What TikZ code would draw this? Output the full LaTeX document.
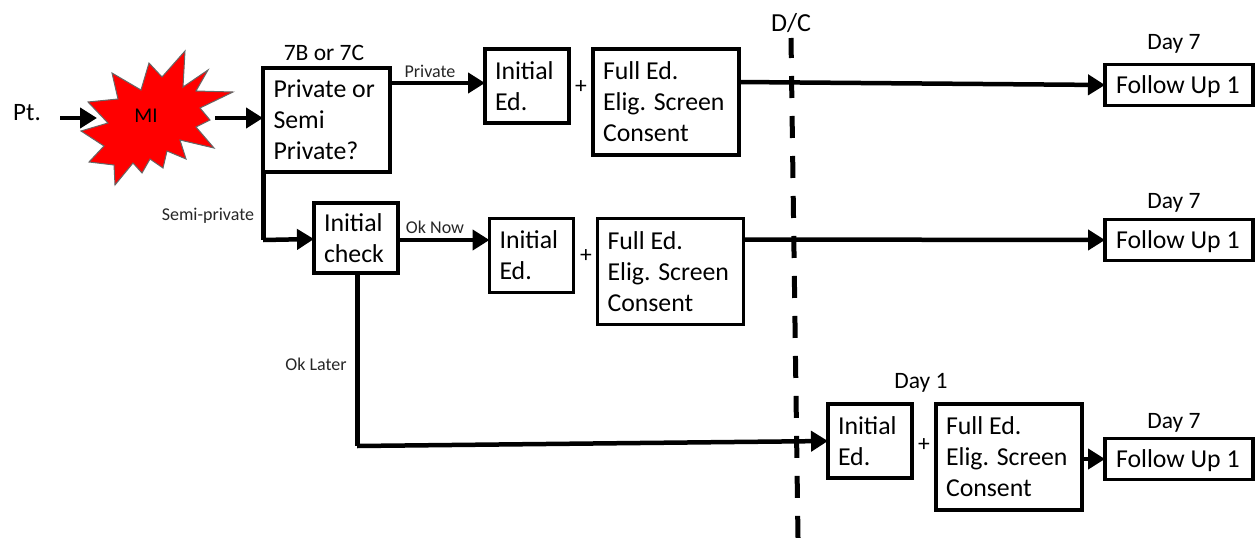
\documentclass[tikz,border=0pt]{standalone}
\usepackage{fontspec}
\setmainfont{Carlito}
\usetikzlibrary{arrows.meta, positioning}

\begin{document}
\begin{tikzpicture}[x=1pt, y=-1pt, node distance=24pt and 24pt,
  box/.style={rectangle, draw, line width=3.5pt, align=flush left, outer sep=0pt, inner sep=0pt, font=\fontsize{25.8}{31}\selectfont},
  qbox/.style={box, text width=106pt, minimum width=127pt, minimum height=104pt},
  checkbox/.style={box, text width=64pt, minimum width=84pt, minimum height=70pt},
  edbox/.style={box, text width=64pt, minimum width=84pt, minimum height=74pt},
  fullbox/.style={box, text width=126pt, minimum width=146pt, minimum height=106pt},
  fubox/.style={box, text width=126pt, minimum width=148pt, minimum height=41pt, text height=18pt, text depth=2pt},
  big/.style={inner sep=0pt, font=\fontsize{23.5}{28}\selectfont},
  small/.style={inner sep=0pt, text=black!85, font=\fontsize{18}{22}\selectfont},
  arr/.style={-{Triangle[length=17pt, width=20pt]}, line width=4.5pt},
  link/.style={line width=5pt}]
\useasboundingbox (0,0) rectangle (1257,538);

% burst
\draw[fill=red, draw=black!60, line width=1pt]
  (185,51) -- (162,77) -- (149,63) -- (141,90) -- (112,73) -- (118,99) -- (88,102) -- (108,123)
  -- (81,131) -- (104,146) -- (89,162) -- (114,165) -- (115,185) -- (133,163) -- (142,173) -- (150,159)
  -- (163,168) -- (167,151) -- (186,159) -- (180,140) -- (214,148) -- (196,127) -- (210,120) -- (200,108)
  -- (233,92) -- (196,91) -- (208,70) -- (183,87) -- cycle;
\node[inner sep=0pt, font=\fontsize{21}{25}\selectfont] (mi) at (146,116) {MI};
\coordinate (miin) at (97,118);
\coordinate (miout) at (215,118);
\node[big, font=\fontsize{25}{30}\selectfont] (pt) at (27,113) {Pt.};

% top row
\node[qbox] (q) at (326.5,120) {Private or\\Semi\\Private?};
\node[edbox] (init1) at (527,86) {Initial\\Ed.};
\node[fullbox, right=24pt of init1.north east, anchor=north west] (full1) {Full Ed.\\Elig. Screen\\Consent};
\node[fubox] (fu1) at (1179,85) {Follow Up 1};

% middle row
\node[checkbox] (check) at (356,238) {Initial\\check};
\node[edbox] (init2) at (531.5,255.5) {Initial\\Ed.};
\node[fullbox, right=24pt of init2.north east, anchor=north west] (full2) {Full Ed.\\Elig. Screen\\Consent};
\node[fubox] (fu2) at (1179,240) {Follow Up 1};

% bottom row
\node[edbox] (init3) at (870,441) {Initial\\Ed.};
\node[fullbox, right=24pt of init3.north east, anchor=north west] (full3) {Full Ed.\\Elig. Screen\\Consent};
\node[fubox] (fu3) at (1179,459) {Follow Up 1};

% labels
\node[big] (ward) at (324,53) {7B or 7C};
\node[small] (private) at (430,71) {Private};
\node[small] (semi) at (208,216) {Semi-private};
\node[small] (oknow) at (435,227) {Ok Now};
\node[small] (oklater) at (316,364) {Ok Later};
\node[big, font=\fontsize{26}{30}\selectfont] (dc) at (791,23) {D/C};
\node[big] (day1) at (921,383) {Day 1};
\node[big] (day7a) at (1174,44) {Day 7};
\node[big] (day7b) at (1174,203) {Day 7};
\node[big] (day7c) at (1174,423) {Day 7};
\node[big] (plus1) at (581,87) {+};
\node[big] (plus2) at (586,256) {+};
\node[big] (plus3) at (924,445) {+};

% discharge line
\coordinate (dcend) at (798,538);
\draw[line width=5pt, dash pattern=on 22pt off 18pt, dash phase=2pt] (791,38) -- (dcend);

% connectors
\draw[arr] ([xshift=19pt, yshift=-5pt]pt.east) -- (miin);
\draw[arr] (miout) -- (q.west |- miout);
\draw[arr] ([yshift=37pt]q.east) -- ([yshift=3pt]init1.west);
\draw[arr] ([yshift=20pt]full1.east) -- (fu1.west);
\draw[link] (q.south west) -- ++(0,68) coordinate (semicorner);
\draw[arr] (semicorner) -- ([yshift=-1pt]check.west);
\draw[arr] ([yshift=-2pt]check.east) -- ([yshift=15.5pt]init2.west);
\draw[arr] ([yshift=32pt]full2.east) -- (fu2.west);
\draw[link] (check.south) ++(1,0) -- ++(0,173) coordinate (latercorner);
\draw[arr] (latercorner) -- (init3.west);
\draw[arr] (full3.east |- fu3.west) -- (fu3.west);
\end{tikzpicture}
\end{document}
